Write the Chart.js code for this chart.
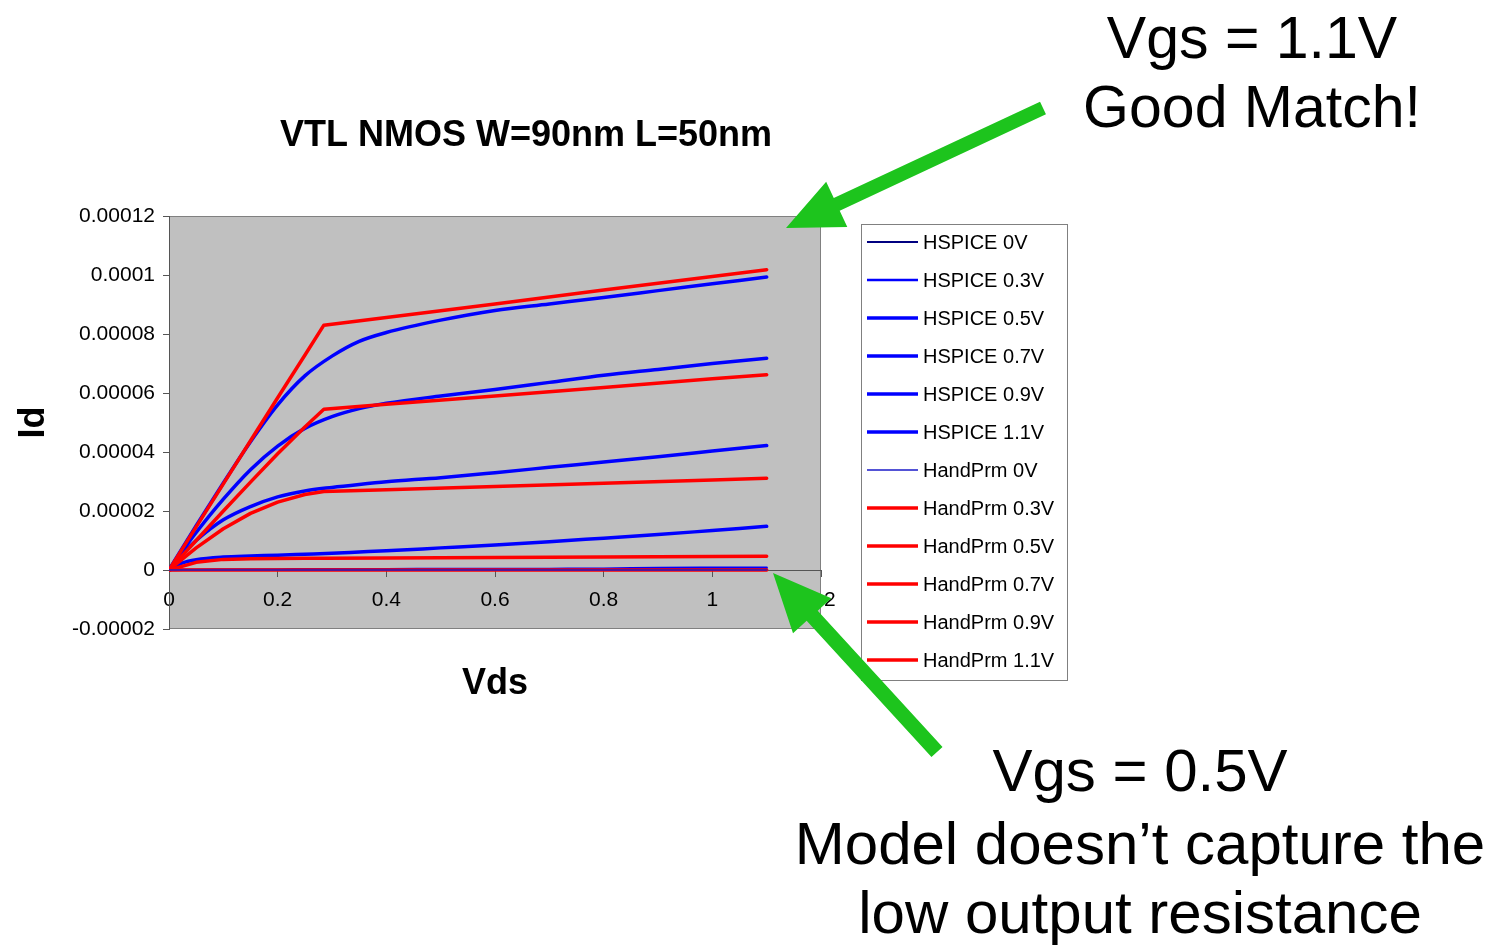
<!DOCTYPE html>
<html>
<head>
<meta charset="utf-8">
<title>VTL NMOS W=90nm L=50nm</title>
<script src="https://cdn.jsdelivr.net/npm/chart.js@4.4.1/dist/chart.umd.min.js"></script>
<style>
  html, body { margin: 0; padding: 0; background: #ffffff; }
  #wrap { position: relative; width: 1493px; height: 945px; }
  canvas { display: block; }
</style>
</head>
<body>
<div id="wrap"><canvas id="chart" width="1493" height="945"></canvas></div>
<script>
// ---- Id–Vds data (Vds in volts, Id in amperes) ----
// HSPICE simulation sweep
const vdsHspice = [0, 0.025, 0.05, 0.1, 0.15, 0.2, 0.25, 0.3, 0.35, 0.4, 0.5, 0.6, 0.7, 0.8, 0.9, 1.0, 1.1];
const hspice0V  = [0, 0, 0, 0, 0, 0, 0, 0, 0, 0, 0, 0, 0, 0, 0, 0, 0];
const hspice03V = [0, 0.5e-7, 1.0e-7, 1.4e-7, 1.7e-7, 2.0e-7, 2.2e-7, 2.4e-7, 2.6e-7, 2.8e-7, 3.1e-7, 3.4e-7, 3.8e-7, 4.4e-7, 6.6e-7, 7.4e-7, 8.0e-7];
const hspice05V = [0, 2.4e-6, 3.5e-6, 4.4e-6, 4.75e-6, 5.0e-6, 5.35e-6, 5.7e-6, 6.1e-6, 6.5e-6, 7.5e-6, 8.5e-6, 9.6e-6, 1.08e-5, 1.2e-5, 1.34e-5, 1.48e-5];
const hspice07V = [0, 5.5e-6, 1.0e-5, 1.7e-5, 2.15e-5, 2.48e-5, 2.68e-5, 2.8e-5, 2.9e-5, 2.99e-5, 3.13e-5, 3.3e-5, 3.48e-5, 3.66e-5, 3.84e-5, 4.03e-5, 4.22e-5];
const hspice09V = [0, 6.5e-6, 1.27e-5, 2.4e-5, 3.4e-5, 4.2e-5, 4.8e-5, 5.2e-5, 5.47e-5, 5.65e-5, 5.9e-5, 6.12e-5, 6.36e-5, 6.6e-5, 6.8e-5, 7.0e-5, 7.18e-5];
const hspice11V = [0, 7.6e-6, 1.5e-5, 2.95e-5, 4.35e-5, 5.6e-5, 6.58e-5, 7.25e-5, 7.75e-5, 8.05e-5, 8.47e-5, 8.8e-5, 9.02e-5, 9.24e-5, 9.47e-5, 9.7e-5, 9.93e-5];

// Hand-calculation model (unified model) sweep
const vdsHand  = [0, 0.05, 0.1, 0.15, 0.2, 0.25, 0.285, 0.4, 0.6, 0.8, 1.0, 1.1];
const hand0V   = [0, 0, 0, 0, 0, 0, 0, 0, 0, 0, 0, 0];
const hand03V  = [0, 0, 0, 0, 0, 0, 0, 0, 0, 0, 0, 0];
const hand05V  = [0, 2.6e-6, 3.6e-6, 3.85e-6, 3.9e-6, 3.95e-6, 3.98e-6, 4.05e-6, 4.2e-6, 4.4e-6, 4.6e-6, 4.7e-6];
const hand07V  = [0, 7.5e-6, 1.4e-5, 1.92e-5, 2.3e-5, 2.56e-5, 2.66e-5, 2.72e-5, 2.83e-5, 2.94e-5, 3.05e-5, 3.11e-5];
const hand09V  = [0, 1.0e-5, 2.0e-5, 2.98e-5, 3.94e-5, 4.85e-5, 5.45e-5, 5.62e-5, 5.9e-5, 6.19e-5, 6.48e-5, 6.62e-5];
const hand11V  = [0, 1.46e-5, 2.92e-5, 4.38e-5, 5.84e-5, 7.28e-5, 8.3e-5, 8.56e-5, 9.02e-5, 9.49e-5, 9.95e-5, 1.018e-4];

// Axis ticks
const xTickValues = [0, 0.2, 0.4, 0.6, 0.8, 1.0, 1.2];
const xTickLabels = ['0', '0.2', '0.4', '0.6', '0.8', '1', '1.2'];
const yTickValues = [-0.00002, 0, 0.00002, 0.00004, 0.00006, 0.00008, 0.0001, 0.00012];
const yTickLabels = ['-0.00002', '0', '0.00002', '0.00004', '0.00006', '0.00008', '0.0001', '0.00012'];

const FONT = "'Liberation Sans', Arial, Helvetica, sans-serif";
const BLUE = '#0000FF';
const RED = '#FF0000';
const NAVY = '#000080';

function curve(label, xs, ys, color, width, order, smooth) {
  return {
    label,
    data: xs.map((x, i) => ({ x, y: ys[i] })),
    borderColor: color,
    backgroundColor: color,
    borderWidth: width,
    pointRadius: 0,
    pointHoverRadius: 0,
    fill: false,
    order,
    tension: 0,
    cubicInterpolationMode: smooth ? 'monotone' : 'default',
    borderJoinStyle: 'round',
    borderCapStyle: 'round'
  };
}

const datasets = [
  curve('HSPICE 0V',   vdsHspice, hspice0V,  NAVY, 2,   1, true),
  curve('HSPICE 0.3V', vdsHspice, hspice03V, BLUE, 2.5, 1, true),
  curve('HSPICE 0.5V', vdsHspice, hspice05V, BLUE, 3.5, 1, true),
  curve('HSPICE 0.7V', vdsHspice, hspice07V, BLUE, 3.5, 1, true),
  curve('HSPICE 0.9V', vdsHspice, hspice09V, BLUE, 3.5, 1, true),
  curve('HSPICE 1.1V', vdsHspice, hspice11V, BLUE, 3.5, 1, true),
  curve('HandPrm 0V',   vdsHand, hand0V,  '#1A1AC8', 1.5, 0, false),
  curve('HandPrm 0.3V', vdsHand, hand03V, RED, 3.5, 0, false),
  curve('HandPrm 0.5V', vdsHand, hand05V, RED, 3.5, 0, false),
  curve('HandPrm 0.7V', vdsHand, hand07V, RED, 3.5, 0, false),
  curve('HandPrm 0.9V', vdsHand, hand09V, RED, 3.5, 0, false),
  curve('HandPrm 1.1V', vdsHand, hand11V, RED, 3.5, 0, false)
];

// Gray plot area with a thin frame
const plotBackground = {
  id: 'plotBackground',
  beforeDraw(chart, args, opts) {
    const { ctx, chartArea: a } = chart;
    ctx.save();
    ctx.fillStyle = opts.fill;
    ctx.fillRect(a.left, a.top, a.right - a.left, a.bottom - a.top);
    ctx.strokeStyle = opts.stroke;
    ctx.lineWidth = 1;
    ctx.strokeRect(Math.round(a.left) + 0.5, Math.round(a.top) + 0.5,
      Math.round(a.right - a.left) - 1, Math.round(a.bottom - a.top) - 1);
    ctx.restore();
  }
};

// Boxed legend listing every series with its line sample
const boxedLegend = {
  id: 'boxedLegend',
  afterDraw(chart, args, o) {
    const { ctx } = chart;
    ctx.save();
    ctx.fillStyle = '#FFFFFF';
    ctx.fillRect(o.left, o.top, o.width, o.height);
    ctx.strokeStyle = '#808080';
    ctx.lineWidth = 1;
    ctx.strokeRect(o.left + 0.5, o.top + 0.5, o.width, o.height);
    ctx.font = o.font;
    ctx.textBaseline = 'middle';
    ctx.textAlign = 'left';
    chart.data.datasets.forEach((ds, i) => {
      const y = o.top + o.firstRow + i * o.rowHeight;
      ctx.strokeStyle = ds.borderColor;
      ctx.lineWidth = ds.borderWidth;
      ctx.lineCap = 'butt';
      ctx.beginPath();
      ctx.moveTo(o.left + o.sampleFrom, y);
      ctx.lineTo(o.left + o.sampleTo, y);
      ctx.stroke();
      ctx.fillStyle = '#000000';
      ctx.fillText(ds.label, o.left + o.textX, y + 1);
    });
    ctx.restore();
  }
};

// Chart heading, slide call-outs and green pointer arrows
const callouts = {
  id: 'callouts',
  afterDraw(chart, args, o) {
    const { ctx } = chart;
    ctx.save();
    ctx.textBaseline = 'alphabetic';
    ctx.textAlign = 'center';
    ctx.fillStyle = '#000000';
    o.texts.forEach(t => {
      ctx.font = t.font;
      ctx.fillText(t.text, t.x, t.y);
    });
    ctx.fillStyle = o.arrowColor;
    o.arrows.forEach(ar => {
      const [tx, ty] = ar.tip, [sx, sy] = ar.tail;
      const len = Math.hypot(sx - tx, sy - ty);
      const ux = (sx - tx) / len, uy = (sy - ty) / len;   // tip -> tail
      const px = -uy, py = ux;                             // perpendicular
      const hb = ar.headLength, hw = ar.headWidth / 2, sw = ar.shaftWidth / 2;
      const bx = tx + ux * hb, by = ty + uy * hb;
      ctx.beginPath();
      ctx.moveTo(tx, ty);
      ctx.lineTo(bx + px * hw, by + py * hw);
      ctx.lineTo(bx + px * sw, by + py * sw);
      ctx.lineTo(sx + px * sw, sy + py * sw);
      ctx.lineTo(sx - px * sw, sy - py * sw);
      ctx.lineTo(bx - px * sw, by - py * sw);
      ctx.lineTo(bx - px * hw, by - py * hw);
      ctx.closePath();
      ctx.fill();
    });
    ctx.restore();
  }
};

Chart.defaults.font.family = FONT;
Chart.defaults.color = '#000000';

new Chart(document.getElementById('chart'), {
  type: 'line',
  data: { datasets },
  plugins: [plotBackground, boxedLegend, callouts],
  options: {
    responsive: false,
    animation: false,
    events: [],
    layout: { padding: { left: 0, top: 216, right: 672, bottom: 316 } },
    scales: {
      x: {
        type: 'linear',
        min: 0,
        max: 1.2,
        position: { y: 0 },
        afterBuildTicks: s => { s.ticks = xTickValues.map(v => ({ value: v })); },
        ticks: {
          callback: (v, i) => xTickLabels[i],
          font: { size: 21 },
          color: '#000000',
          padding: 12,
          maxRotation: 0,
          autoSkip: false
        },
        grid: { drawOnChartArea: false, tickLength: 6, color: '#555555' },
        border: { display: true, color: '#555555', width: 1 },
        title: {
          display: true,
          text: 'Vds',
          font: { size: 36, weight: 'bold' },
          color: '#000000',
          padding: { top: 37, bottom: 0 }
        }
      },
      y: {
        type: 'linear',
        min: -0.00002,
        max: 0.00012,
        afterBuildTicks: s => { s.ticks = yTickValues.map(v => ({ value: v })); },
        afterFit: s => { s.width = 169; },
        ticks: {
          callback: (v, i) => yTickLabels[i],
          font: { size: 21 },
          color: '#000000',
          padding: 8
        },
        grid: { drawOnChartArea: false, tickLength: 6, color: '#555555' },
        border: { display: true, color: '#555555', width: 1 },
        title: {
          display: true,
          text: 'Id',
          font: { size: 36, weight: 'bold' },
          color: '#000000',
          padding: { top: 12, bottom: 0 }
        }
      }
    },
    plugins: {
      legend: { display: false },
      tooltip: { enabled: false },
      title: { display: false },
      plotBackground: { fill: '#C0C0C0', stroke: '#808080' },
      boxedLegend: {
        left: 861, top: 224, width: 206, height: 456,
        firstRow: 18, rowHeight: 38,
        sampleFrom: 6, sampleTo: 57, textX: 62,
        font: '20px ' + FONT
      },
      callouts: {
        arrowColor: '#1DC41D',
        texts: [
          { text: 'VTL NMOS W=90nm L=50nm', x: 526, y: 146, font: 'bold 36px ' + FONT },
          { text: 'Vgs = 1.1V', x: 1252, y: 58, font: '59px ' + FONT },
          { text: 'Good Match!', x: 1252, y: 127, font: '59px ' + FONT },
          { text: 'Vgs = 0.5V', x: 1140, y: 791, font: '60px ' + FONT },
          { text: 'Model doesn\u2019t capture the', x: 1140, y: 864, font: '60px ' + FONT },
          { text: 'low output resistance', x: 1140, y: 933, font: '60px ' + FONT }
        ],
        arrows: [
          { tip: [786, 228], tail: [1043, 108], shaftWidth: 14, headLength: 56, headWidth: 50 },
          { tip: [773, 573], tail: [937, 752], shaftWidth: 15, headLength: 58, headWidth: 52 }
        ]
      }
    }
  }
});
</script>
</body>
</html>
